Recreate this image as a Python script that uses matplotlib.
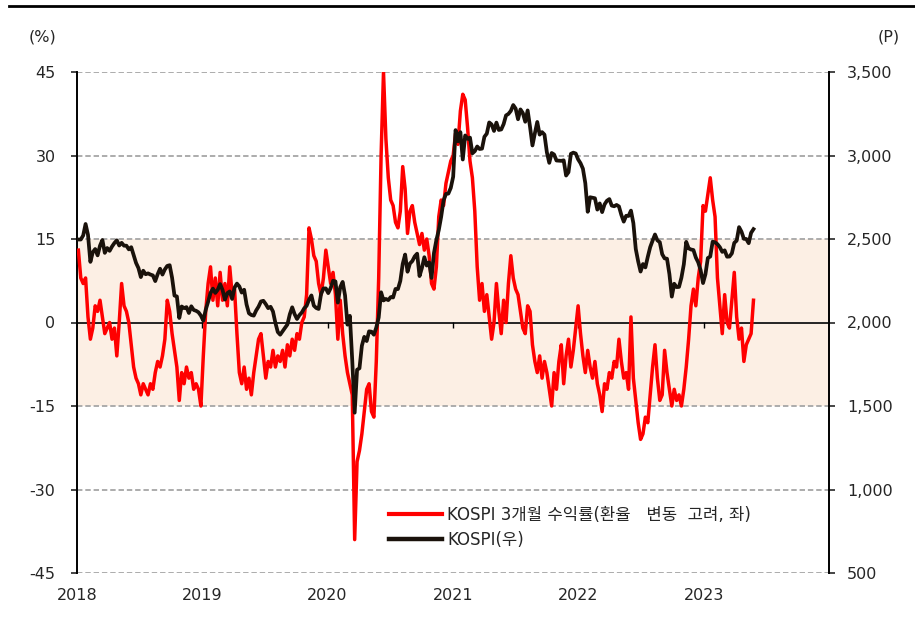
import pandas as pd
import matplotlib
matplotlib.use('Agg')
import matplotlib.pyplot as plt
import matplotlib.dates as mdates
from matplotlib.lines import Line2D
from matplotlib.ticker import FuncFormatter

plt.rcParams['font.family'] = ['DejaVu Sans', 'Noto Sans CJK KR']
plt.rcParams['axes.unicode_minus'] = False

# weekly (Friday) values, 2018-01-05 .. 2023-05-26
kospi_2018 = [2497, 2497, 2521, 2590, 2525, 2363, 2421, 2440, 2402, 2460, 2494, 2417, 2446,
              2429, 2455, 2476, 2492, 2461, 2477, 2460, 2460, 2438, 2451, 2404, 2357, 2326,
              2272, 2310, 2289, 2294, 2287, 2282, 2248, 2289, 2322, 2287, 2318, 2339, 2343,
              2268, 2161, 2156, 2027, 2096, 2086, 2092, 2057, 2097, 2075, 2070, 2061, 2041]
kospi_2019 = [2011, 2076, 2124, 2177, 2203, 2177, 2196, 2230, 2195, 2137, 2176, 2186, 2141,
              2209, 2233, 2216, 2179, 2196, 2108, 2055, 2045, 2041, 2072, 2095, 2126, 2130,
              2110, 2086, 2094, 2066, 1998, 1943, 1927, 1948, 1968, 1988, 2049, 2091, 2050,
              2021, 2044, 2060, 2085, 2100, 2137, 2162, 2101, 2087, 2081, 2170, 2204, 2204]
kospi_2020 = [2176, 2206, 2250, 2246, 2119, 2212, 2243, 2162, 1987, 2040, 1771, 1460, 1717,
              1726, 1861, 1914, 1889, 1947, 1945, 1927, 1970, 2030, 2181, 2132, 2141, 2134,
              2152, 2150, 2201, 2200, 2249, 2351, 2407, 2304, 2353, 2368, 2396, 2412, 2278,
              2327, 2391, 2341, 2360, 2267, 2416, 2493, 2553, 2633, 2731, 2770, 2772, 2806]
kospi_2021 = [2873, 3152, 3085, 3140, 2976, 3120, 3100, 3107, 3013, 3026, 3054, 3039, 3041,
              3112, 3131, 3198, 3186, 3147, 3197, 3153, 3156, 3188, 3240, 3249, 3267, 3302,
              3281, 3217, 3276, 3254, 3202, 3270, 3171, 3060, 3133, 3201, 3125, 3140, 3125,
              3019, 2956, 3015, 3006, 2970, 2969, 2968, 2971, 2880, 2900, 3010, 3017, 3012, 2977]
kospi_2022 = [2954, 2921, 2834, 2663, 2750, 2747, 2744, 2676, 2713, 2661, 2707, 2729, 2739,
              2700, 2696, 2704, 2695, 2644, 2604, 2639, 2638, 2670, 2595, 2440, 2366, 2305,
              2350, 2330, 2393, 2451, 2490, 2527, 2492, 2481, 2409, 2384, 2382, 2290, 2155,
              2232, 2212, 2213, 2268, 2348, 2483, 2444, 2437, 2434, 2389, 2360, 2313, 2236]
kospi_2023 = [2289, 2386, 2395, 2484, 2480, 2469, 2451, 2423, 2432, 2394, 2395, 2414, 2477,
              2490, 2571, 2544, 2501, 2500, 2475, 2537, 2559]

ret_2018 = [13, 8, 7, 8, 1, -3, -1, 3, 2, 4, 1, -2, -1, 0, -3, -1, -6, 0, 7, 3, 2, 0, -4, -8,
            -10, -11, -13, -11, -12, -13, -11, -12, -9, -7, -8, -6, -3, 4, 2, -2, -5, -8, -14,
            -9, -11, -8, -10, -9, -12, -11, -12, -15]
ret_2019 = [-6, 2, 7, 10, 4, 8, 3, 9, 4, 7, 3, 10, 5, 6, -2, -9, -11, -8, -12, -10, -13, -9,
            -6, -3, -2, -6, -10, -7, -8, -5, -8, -6, -7, -5, -8, -4, -6, -3, -5, -2, -3, 0, 1,
            5, 17, 15, 12, 11, 7, 5, 8, 13]
ret_2020 = [10, 7, 9, 5, -3, 4, -2, -6, -9, -11, -13, -39, -25, -23, -20, -16, -12, -11, -16,
            -17, -7, 8, 30, 45, 33, 26, 22, 21, 18, 17, 20, 28, 24, 16, 20, 21, 18, 16, 14, 16,
            13, 15, 12, 7, 6, 10, 19, 22, 21, 25, 27, 29]
ret_2021 = [30, 34, 32, 38, 41, 40, 35, 29, 26, 20, 10, 4, 7, 2, 5, 1, -3, 0, 7, 2, -2, 4, 0,
            7, 12, 8, 6, 5, 2, -1, -2, 3, 2, -4, -7, -9, -6, -10, -7, -9, -12, -15, -9, -12,
            -7, -4, -11, -6, -3, -8, -5, -1, 3]
ret_2022 = [-2, -6, -9, -5, -8, -10, -7, -11, -13, -16, -11, -12, -9, -10, -7, -8, -3, -7,
            -10, -9, -12, 1, -10, -14, -18, -21, -20, -17, -18, -13, -8, -4, -10, -14, -13,
            -5, -9, -12, -15, -12, -14, -13, -15, -12, -8, -3, 3, 6, 3, 8, 11, 21]
ret_2023 = [20, 23, 26, 22, 19, 8, 3, -2, 5, 0, -1, 4, 9, 1, -3, -1, -7, -4, -3, -2, 4]

kospi = kospi_2018 + kospi_2019 + kospi_2020 + kospi_2021 + kospi_2022 + kospi_2023
ret3m = ret_2018 + ret_2019 + ret_2020 + ret_2021 + ret_2022 + ret_2023
dates = pd.date_range('2018-01-05', periods=len(kospi), freq='7D')

years = [2018, 2019, 2020, 2021, 2022, 2023]
left_ticks = [-45, -30, -15, 0, 15, 30, 45]
right_ticks = [500, 1000, 1500, 2000, 2500, 3000, 3500]
label_ret = 'KOSPI 3개월 수익률(환율   변동  고려, 좌)'
label_kospi = 'KOSPI(우)'

RED = '#FF0000'
BLACK = '#1A120B'
TXT = '#262626'
FS = 11.5

fig = plt.figure(figsize=(9.15, 6.25), dpi=100)
ax = fig.add_axes([77 / 915, 1 - 573 / 625, (829 - 77) / 915, (573 - 72) / 625])
ax2 = ax.twinx()

ax.axhspan(-15, 15, color='#FCEFE4', lw=0, zorder=0)
for v in left_ticks:
    if v != 0:
        ax.axhline(v, color='#A6A6A6', lw=1.3, dashes=(3, 1.6), zorder=1)
ax.axhline(0, color='black', lw=1.2, zorder=2)
ax.plot(dates, ret3m, color=RED, lw=2.5, zorder=3, solid_joinstyle='round')
ax2.plot(dates, kospi, color=BLACK, lw=2.7, solid_joinstyle='round')

ax.set_ylim(-45, 45)
ax2.set_ylim(500, 3500)
ax.set_yticks(left_ticks)
ax2.set_yticks(right_ticks)
ax2.yaxis.set_major_formatter(FuncFormatter(lambda v, p: f'{int(v):,}'))

ax.set_xlim(pd.Timestamp('2018-01-01'), pd.Timestamp('2024-01-01'))
year_pos = [pd.Timestamp(f'{y}-01-01') for y in years]
ax.set_xticks(year_pos)
ax.xaxis.set_major_formatter(mdates.DateFormatter('%Y'))
ax.tick_params(axis='x', length=0, pad=11, labelsize=FS, colors=TXT)
ax.tick_params(axis='y', length=4.5, width=1.2, pad=11, labelsize=FS, colors=TXT, direction='out')
ax2.tick_params(axis='y', length=4, width=1.2, pad=9, labelsize=FS, colors=TXT, direction='out')

# small year ticks on the zero line
sec = ax.secondary_xaxis(0.5)
sec.set_xticks(year_pos[1:])
sec.tick_params(direction='in', length=4, width=1, labeltop=False, labelbottom=False, color='black')
for s in sec.spines.values():
    s.set_visible(False)

for s in ['top', 'bottom', 'right']:
    ax.spines[s].set_visible(False)
for s in ['top', 'bottom', 'left']:
    ax2.spines[s].set_visible(False)
ax.spines['left'].set_linewidth(1.4)
ax2.spines['right'].set_linewidth(1.4)

handles = [Line2D([], [], color=RED, lw=3), Line2D([], [], color=BLACK, lw=3.2)]
fig.legend(handles, [label_ret, label_kospi], loc='upper left',
           bbox_to_anchor=(389 / 915, 1 - 506 / 625), frameon=False, borderpad=0,
           borderaxespad=0, handlelength=3.2, handletextpad=0.3, labelspacing=0.4,
           fontsize=12, labelcolor=TXT)

fig.text(43 / 915, 1 - 37 / 625, '(%)', ha='center', va='center', fontsize=FS, color=TXT)
fig.text(889 / 915, 1 - 37 / 625, '(P)', ha='center', va='center', fontsize=FS, color=TXT)
fig.add_artist(Line2D([9 / 915, 1], [1 - 6 / 625] * 2, color='black', lw=2))

fig.savefig('out.png', dpi=100)
